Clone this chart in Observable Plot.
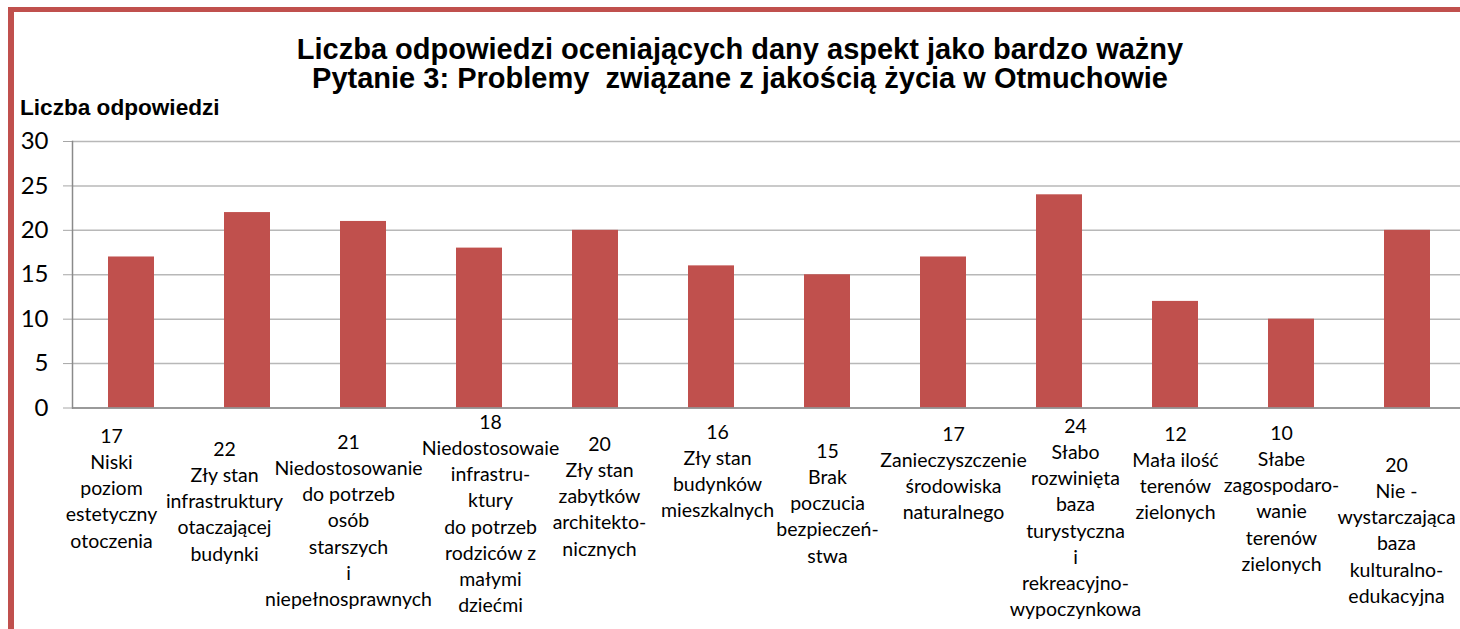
<!DOCTYPE html>
<html>
<head>
<meta charset="utf-8">
<script src="https://cdn.jsdelivr.net/npm/d3@7"></script>
<script src="https://cdn.jsdelivr.net/npm/@observablehq/plot@0.6"></script>
<style>
html, body { margin: 0; padding: 0; background: #fff; overflow: hidden; width: 1460px; height: 629px; }
#wrap { position: relative; width: 1460px; height: 629px; overflow: hidden; }
#frame { position: absolute; left: 8px; top: 7px; width: 1470px; height: 640px; border-top: 5px solid #c0504d; border-left: 6px solid #c0504d; box-sizing: border-box; }
#title { position: absolute; left: 0; top: 34.5px; width: 1480px; text-align: center; font: bold 29px/29px "Liberation Sans", Arial, sans-serif; color: #000; }
#ylabel { position: absolute; left: 20px; top: 97px; font: bold 22.6px/22px "Liberation Sans", Arial, sans-serif; color: #000; white-space: nowrap; }
#chart { position: absolute; left: 0; top: 0; }
</style>
</head>
<body>
<div id="wrap">
  <div id="frame"></div>
  <div id="chart"></div>
  <div id="title">Liczba odpowiedzi oceniających dany aspekt jako bardzo ważny<br>Pytanie 3: Problemy&nbsp; związane z jakością życia w Otmuchowie</div>
  <div id="ylabel">Liczba odpowiedzi</div>
</div>
<script>
const categories = [
  "Niski\npoziom\nestetyczny\notoczenia",
  "Zły stan\ninfrastruktury\notaczającej\nbudynki",
  "Niedostosowanie\ndo potrzeb\nosób\nstarszych\ni\nniepełnosprawnych",
  "Niedostosowaie\ninfrastru-\nktury\ndo potrzeb\nrodziców z\nmałymi\ndziećmi",
  "Zły stan\nzabytków\narchitekto-\nnicznych",
  "Zły stan\nbudynków\nmieszkalnych",
  "Brak\npoczucia\nbezpieczeń-\nstwa",
  "Zanieczyszczenie\nśrodowiska\nnaturalnego",
  "Słabo\nrozwinięta\nbaza\nturystyczna\ni\nrekreacyjno-\nwypoczynkowa",
  "Mała ilość\nterenów\nzielonych",
  "Słabe\nzagospodaro-\nwanie\nterenów\nzielonych",
  "Nie -\nwystarczająca\nbaza\nkulturalno-\nedukacyjna"
];
const values = [17, 22, 21, 18, 20, 16, 15, 17, 24, 12, 10, 20];
const yTicks = [0, 5, 10, 15, 20, 25, 30];
// label nudges (layout only, as in the original's staggered category labels)
const labelDx = [-20, -23, -15, 11, 4, 6, 0, 10, 16, 0, -10, -11];
const labelDy = [16, 29, 22, 2, 24, 12, 31, 14, 6, 14, 13, 45];

const data = categories.map((c, i) => ({category: c, value: values[i], label: `${values[i]}\n${c}`}));

const labelMarks = data.map((d, i) => Plot.text([d], {
  x: "category",
  text: "label",
  frameAnchor: "bottom",
  lineAnchor: "top",
  textAnchor: "middle",
  lineHeight: 1.345,
  fontSize: 19.5,
  fontFamily: "Lato",
  fill: "#000",
  dx: labelDx[i],
  dy: labelDy[i]
}));

const chart = Plot.plot({
  width: 1460,
  height: 629,
  marginLeft: 72,
  marginRight: 0,
  marginTop: 141,
  marginBottom: 221.5,
  style: {background: "transparent", fontFamily: "Lato", overflow: "visible"},
  x: {domain: categories, range: [72, 1467], paddingInner: 0.6, paddingOuter: 0.3, axis: null},
  y: {domain: [0, 30], label: null},
  marks: [
    Plot.gridY(yTicks, {stroke: "#b8b8b8", strokeOpacity: 1, strokeWidth: 1.5}),
    Plot.axisY(yTicks, {tickSize: 9, tickPadding: 15, fontSize: 24, fontFamily: "Lato", stroke: "#a6a6a6", fill: "#000", label: null}),
    Plot.barY(data, {x: "category", y: "value", fill: "#c0504d"}),
    Plot.ruleY([0], {stroke: "#8a8a8a", strokeWidth: 1.5}),
    Plot.frame({anchor: "left", stroke: "#8a8a8a", strokeWidth: 1.5}),
    ...labelMarks
  ]
});
document.getElementById("chart").appendChild(chart);
</script>
</body>
</html>
